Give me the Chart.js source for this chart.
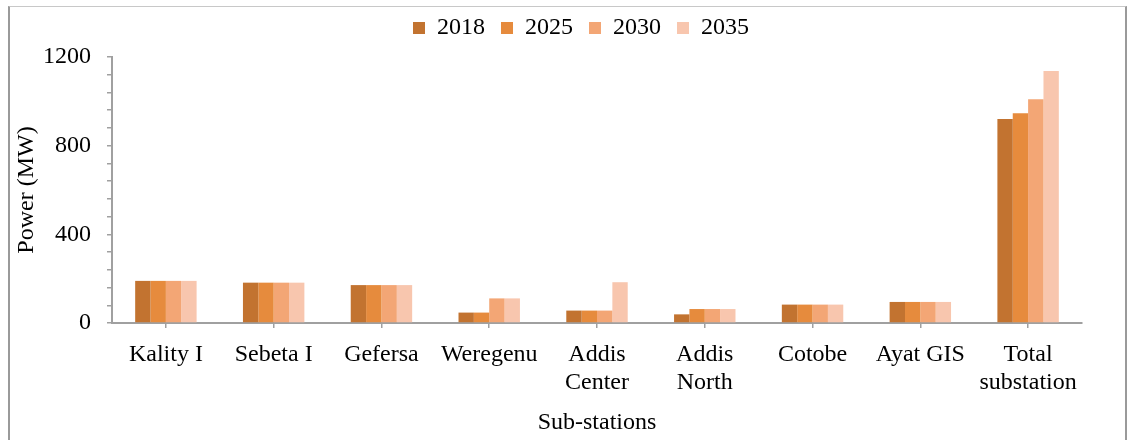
<!DOCTYPE html>
<html>
<head>
<meta charset="utf-8">
<script src="https://cdn.jsdelivr.net/npm/chart.js@4/dist/chart.umd.min.js"></script>
<style>
  html, body { margin: 0; padding: 0; background: #fff; width: 1129px; height: 440px; overflow: hidden; }
  #frame { position: absolute; left: 8px; top: 6px; width: 1115px; height: 460px;
           border-left: 2px solid #9a9a9a; border-right: 2px solid #9a9a9a; border-top: 1px solid #c8c8c8; }
  #wrap { position: absolute; left: 0; top: 0; width: 1129px; height: 440px; }
</style>
</head>
<body>
<div id="frame"></div>
<div id="wrap"><canvas id="c" width="1129" height="440"></canvas></div>
<script>
const categories = ['Kality I', 'Sebeta I', 'Gefersa', 'Weregenu', ['Addis', 'Center'], ['Addis', 'North'], 'Cotobe', 'Ayat GIS', ['Total', 'substation']];
const seriesNames = ['2018', '2025', '2030', '2035'];
const values2018 = [190, 182, 171, 47, 56, 39, 83, 95, 920];
const values2025 = [190, 182, 171, 47, 56, 63, 83, 95, 946];
const values2030 = [190, 182, 171, 111, 56, 63, 83, 95, 1009];
const values2035 = [190, 182, 171, 111, 184, 63, 83, 95, 1137];
const yTickLabels = [0, 400, 800, 1200];

const colors = ['#C27330', '#E68B3D', '#F3A675', '#F8C6AE'];
const seriesValues = [values2018, values2025, values2030, values2035];

Chart.defaults.font.family = '"Liberation Serif", "Times New Roman", serif';
Chart.defaults.color = '#000';

const axisGray = '#a0a0a0';

const legendShift = {
  id: 'legendShift',
  afterLayout(chart) {
    const lg = chart.legend;
    if (lg) { lg.left += 40; lg.right += 40; lg.top -= 7; lg.bottom -= 7; }
  }
};

new Chart(document.getElementById('c'), {
  type: 'bar',
  data: {
    labels: categories,
    datasets: seriesNames.map((n, i) => ({
      label: n,
      data: seriesValues[i],
      backgroundColor: colors[i],
      borderWidth: 0,
      categoryPercentage: 0.57,
      barPercentage: 1.0
    }))
  },
  plugins: [legendShift],
  options: {
    responsive: false,
    animation: false,
    devicePixelRatio: 1,
    layout: { padding: { top: 7, right: 47, left: 0, bottom: 0 } },
    plugins: {
      legend: {
        position: 'top',
        labels: { boxWidth: 12, boxHeight: 12, padding: 16, font: { size: 24 } }
      },
      tooltip: { enabled: false }
    },
    scales: {
      x: {
        offset: true,
        grid: { display: true, drawOnChartArea: false, offset: false, tickLength: 5, color: axisGray, lineWidth: 1.5 },
        border: { display: true, color: axisGray, width: 2 },
        ticks: { font: { size: 24 }, padding: 12, maxRotation: 0, autoSkip: false },
        title: { display: true, text: 'Sub-stations', font: { size: 24 }, padding: { top: 0, bottom: 3 } },
        afterFit: s => { s.height = 117; }
      },
      y: {
        min: 0, max: 1200,
        grid: { display: true, drawOnChartArea: false, tickLength: 5, color: axisGray, lineWidth: 1.5 },
        border: { display: true, color: axisGray, width: 2 },
        ticks: {
          stepSize: 80, padding: 16, font: { size: 24 }, autoSkip: false,
          callback: v => (yTickLabels.includes(v) ? String(v) : '')
        },
        title: { display: true, text: 'Power (MW)', font: { size: 24 }, padding: { top: 12, bottom: 0 } },
        afterFit: s => { s.width = 112; }
      }
    }
  }
});
</script>
</body>
</html>
